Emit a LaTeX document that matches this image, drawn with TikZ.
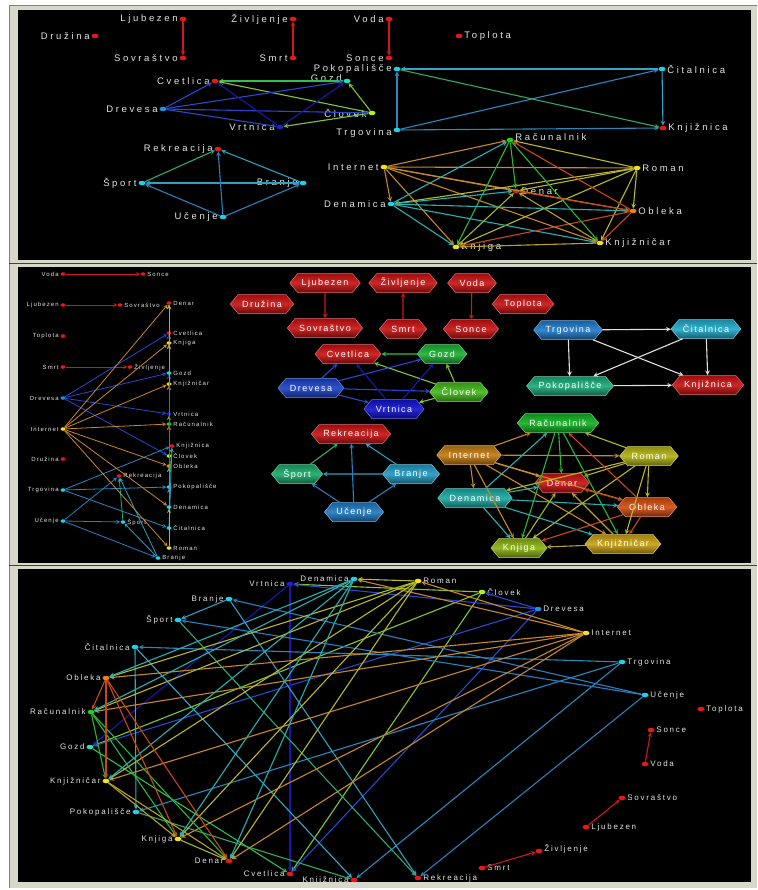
\documentclass[tikz,border=0pt]{standalone}
\usepackage{fontspec}
\setmainfont{Liberation Sans}
\newfontfamily\panelafont[LetterSpace=28]{Liberation Sans}
\newfontfamily\hexfont[LetterSpace=16]{Liberation Sans}
\newfontfamily\listfont[LetterSpace=18]{Liberation Sans}
\newfontfamily\panelcfont[LetterSpace=22]{Liberation Sans}
\usepackage{tikz}
\usetikzlibrary{arrows,shapes.geometric,shapes.symbols}

% node colours
\definecolor{cred}{HTML}{E81818}
\definecolor{ccyan}{HTML}{20D0E8}
\definecolor{cgozd}{HTML}{20E0C0}
\definecolor{cdrev}{HTML}{2090E0}
\definecolor{cvrtn}{HTML}{2020D0}
\definecolor{cclov}{HTML}{B0F020}
\definecolor{cyell}{HTML}{F0E020}
\definecolor{cracu}{HTML}{20D020}
\definecolor{coble}{HTML}{F08010}
\definecolor{labgray}{HTML}{E4E4E4}
\definecolor{framec}{HTML}{D8D8C8}
% hexagon colours
\definecolor{hred}{HTML}{C81010}
\definecolor{htrgo}{HTML}{1F78C8}
\definecolor{hcita}{HTML}{20A8C8}
\definecolor{hpoko}{HTML}{18A878}
\definecolor{hgozd}{HTML}{18B030}
\definecolor{hdrev}{HTML}{1840C8}
\definecolor{hclov}{HTML}{40B818}
\definecolor{hvrtn}{HTML}{1010D0}
\definecolor{hspor}{HTML}{18A868}
\definecolor{hbran}{HTML}{2098C0}
\definecolor{hucen}{HTML}{1E78C0}
\definecolor{hracu}{HTML}{10B020}
\definecolor{hinte}{HTML}{C07810}
\definecolor{hroma}{HTML}{B0B010}
\definecolor{hdnmc}{HTML}{18A8A0}
\definecolor{hoble}{HTML}{D04A10}
\definecolor{hknjg}{HTML}{88B010}
\definecolor{hknjr}{HTML}{C8A010}
% edge colours (by source)
\definecolor{eRed}{HTML}{D01818}
\definecolor{eGozd}{HTML}{30C050}
\definecolor{eClov}{HTML}{80C830}
\definecolor{eDrev}{HTML}{2848D0}
\definecolor{eVrtn}{HTML}{1818B0}
\definecolor{eTrgo}{HTML}{2888C0}
\definecolor{eCita}{HTML}{30A8C8}
\definecolor{ePoko}{HTML}{30A868}
\definecolor{eSpor}{HTML}{30A870}
\definecolor{eBran}{HTML}{30A0C0}
\definecolor{eUcen}{HTML}{2880C0}
\definecolor{eInte}{HTML}{C88828}
\definecolor{eRoma}{HTML}{B8B828}
\definecolor{eRacu}{HTML}{28B838}
\definecolor{eDnmc}{HTML}{28B0B0}
\definecolor{eOble}{HTML}{C84818}
\definecolor{eKnjr}{HTML}{B8A028}
\definecolor{eKnjg}{HTML}{A0B828}

\tikzset{
  gdot/.style={ellipse, fill=#1, minimum width=7pt, minimum height=4.5pt, inner sep=0pt},
  sdot/.style={ellipse, fill=#1, minimum width=5pt, minimum height=3.5pt, inner sep=0pt},
  link/.style={->, line width=1.1pt},
  hex/.style={signal, signal to=east and west, signal pointer angle=100,
    draw=#1!60!white, line width=0.5pt,
    top color=#1!80!black, bottom color=#1!55!black, middle color=#1!90!white,
    text=white, font=\hexfont\fontsize{9}{10}\selectfont,
    minimum height=19pt, inner xsep=4pt, inner ysep=2pt},
}

% the same graph is drawn in every panel
\newcommand\graphedges[1]{%
  \foreach \s/\t/\c in {ljub/sovr/eRed, smrt/zivl/eRed, voda/sonc/eRed,
      gozd/cvet/eGozd, clov/cvet/eClov, clov/gozd/eClov, clov/vrtn/eClov,
      drev/cvet/eDrev, drev/gozd/eDrev, drev/clov/eDrev, drev/vrtn/eDrev,
      vrtn/cvet/eVrtn, vrtn/gozd/eVrtn,
      trgo/poko/eTrgo, trgo/cita/eTrgo, trgo/knjn/eTrgo,
      cita/poko/eCita, cita/knjn/eCita, poko/knjn/ePoko,
      spor/rekr/eSpor, bran/rekr/eBran, bran/spor/eBran,
      ucen/rekr/eUcen, ucen/spor/eUcen, ucen/bran/eUcen,
      inte/racu/eInte, inte/roma/eInte, inte/dena/eInte, inte/dnmc/eInte,
      inte/oble/eInte, inte/knjg/eInte, inte/knjr/eInte,
      roma/racu/eRoma, roma/dena/eRoma, roma/dnmc/eRoma, roma/oble/eRoma,
      roma/knjg/eRoma, roma/knjr/eRoma,
      racu/dena/eRacu, racu/knjg/eRacu, racu/knjr/eRacu,
      dnmc/racu/eDnmc, dnmc/dena/eDnmc, dnmc/oble/eDnmc, dnmc/knjg/eDnmc, dnmc/knjr/eDnmc,
      oble/racu/eOble, oble/dena/eOble, oble/knjg/eOble, oble/knjr/eOble,
      knjr/knjg/eKnjr, knjr/dena/eKnjr, knjg/dena/eKnjg}
    \draw[link, \c] (#1\s) -- (#1\t);
}

\begin{document}
\begin{tikzpicture}[>=stealth, x=1pt, y=-1pt]
  \useasboundingbox (0,0) rectangle (757,890);
  % frames
  \fill[white] (0,0) rectangle (757,890);
  \fill[framec] (9,5) rectangle (757,888);
  \draw[gray] (9.5,888) -- (9.5,5.5) -- (757,5.5);
  \fill[black] (18,10) rectangle (751,260);
  \draw[black!75, line width=1pt] (9,263.5) -- (757,263.5);
  \fill[black] (18,267) rectangle (751,563);
  \draw[black!75, line width=1pt] (9,565.5) -- (757,565.5);
  \fill[black] (18,569) rectangle (751,882);

  % panel 1
  \begin{scope}[every label/.style={text=labgray, inner sep=1.5pt, font=\panelafont\fontsize{9.5}{11}\selectfont}]
	\node[gdot=cred, label=left:Ljubezen] (aljub) at (183,19) {};
	\node[gdot=cred, label=left:Sovraštvo] (asovr) at (183,58) {};
	\node[gdot=cred, label=left:Družina] (adruz) at (95,36) {};
	\node[gdot=cred, label=left:Življenje] (azivl) at (293,19) {};
	\node[gdot=cred, label=left:Smrt] (asmrt) at (293,58) {};
	\node[gdot=cred, label=left:Voda] (avoda) at (389,19) {};
	\node[gdot=cred, label=left:Sonce] (asonc) at (389,58) {};
	\node[gdot=cred, label=right:Toplota] (atopl) at (459,36) {};
	\node[gdot=cred, label=left:Cvetlica] (acvet) at (215,81) {};
	\node[gdot=cgozd, label={[yshift=3pt]left:Gozd}] (agozd) at (347,81) {};
	\node[gdot=cdrev, label=left:Drevesa] (adrev) at (163,109) {};
	\node[gdot=cclov, label=left:Človek] (aclov) at (372,113) {};
	\node[gdot=cvrtn, label=left:Vrtnica] (avrtn) at (280,127) {};
	\node[gdot=ccyan, label=left:Pokopališče] (apoko) at (397,69) {};
	\node[gdot=ccyan, label={[yshift=-3pt]left:Trgovina}] (atrgo) at (397,130) {};
	\node[gdot=ccyan, label=right:Čitalnica] (acita) at (662,69) {};
	\node[gdot=cred, label=right:Knjižnica] (aknjn) at (663,128) {};
	\node[gdot=cred, label=left:Rekreacija] (arekr) at (218,149) {};
	\node[gdot=ccyan, label=left:Šport] (aspor) at (142,183) {};
	\node[gdot=ccyan, label=left:Branje] (abran) at (303,183) {};
	\node[gdot=ccyan, label=left:Učenje] (aucen) at (223,217) {};
	\node[gdot=cracu, label={[yshift=3pt]right:Računalnik}] (aracu) at (510,140) {};
	\node[gdot=cyell, label=left:Internet] (ainte) at (384,167) {};
	\node[gdot=cyell, label=right:Roman] (aroma) at (637,168) {};
	\node[gdot=cred, label=right:Denar] (adena) at (516,191) {};
	\node[gdot=ccyan, label=left:Denamica] (adnmc) at (391,204) {};
	\node[gdot=coble, label=right:Obleka] (aoble) at (633,211) {};
	\node[gdot=cyell, label=right:Knjiga] (aknjg) at (456,247) {};
	\node[gdot=cyell, label=right:Knjižničar] (aknjr) at (600,243) {};
	\graphedges{a}
  \end{scope}

  % panel 2, list
  \begin{scope}[every label/.style={text=labgray, inner sep=1.5pt, font=\listfont\fontsize{6}{7}\selectfont}, link/.append style={line width=0.8pt}]
	\node[sdot=cred, label=left:Voda] (lvoda) at (63,274) {};
	\node[sdot=cred, label=right:Sonce] (lsonc) at (143,274) {};
	\node[sdot=cred, label=left:Ljubezen] (lljub) at (63,305) {};
	\node[sdot=cred, label=right:Sovraštvo] (lsovr) at (120,305) {};
	\node[sdot=cred, label=left:Toplota] (ltopl) at (63,336) {};
	\node[sdot=cred, label=left:Smrt] (lsmrt) at (63,367) {};
	\node[sdot=cred, label=right:Življenje] (lzivl) at (130,367) {};
	\node[sdot=cdrev, label=left:Drevesa] (ldrev) at (63,398) {};
	\node[sdot=cyell, label=left:Internet] (linte) at (63,429) {};
	\node[sdot=cred, label=left:Družina] (ldruz) at (63,459) {};
	\node[sdot=ccyan, label=left:Trgovina] (ltrgo) at (63,490) {};
	\node[sdot=ccyan, label=left:Učenje] (lucen) at (63,521) {};
	\node[sdot=cred, label=right:Rekreacija] (lrekr) at (119,476) {};
	\node[sdot=ccyan, label=right:Šport] (lspor) at (123,522) {};
	\node[sdot=cred, label=right:Denar] (ldena) at (169,303) {};
	\node[sdot=cred, label=right:Cvetlica] (lcvet) at (169,333) {};
	\node[sdot=cyell, label=right:Knjiga] (lknjg) at (169,343) {};
	\node[sdot=cgozd, label=right:Gozd] (lgozd) at (169,373) {};
	\node[sdot=cyell, label=right:Knjižničar] (lknjr) at (169,384) {};
	\node[sdot=cvrtn, label=right:Vrtnica] (lvrtn) at (169,414) {};
	\node[sdot=cracu, label=right:Računalnik] (lracu) at (169,424) {};
	\node[sdot=cred, label=right:Knjižnica] (lknjn) at (172,446) {};
	\node[sdot=cclov, label=right:Človek] (lclov) at (169,456) {};
	\node[sdot=coble, label=right:Obleka] (loble) at (169,466) {};
	\node[sdot=ccyan, label=right:Pokopališče] (lpoko) at (169,487) {};
	\node[sdot=ccyan, label=right:Denamica] (ldnmc) at (169,507) {};
	\node[sdot=ccyan, label=right:Čitalnica] (lcita) at (169,528) {};
	\node[sdot=cyell, label=right:Roman] (lroma) at (169,548) {};
	\node[sdot=ccyan, label=right:Branje] (lbran) at (158,558) {};
	\graphedges{l}
  \end{scope}

  % panel 2, hexagons
  \begin{scope}
	\colorlet{eTrgo}{black!12}
	\colorlet{eCita}{black!12}
	\colorlet{ePoko}{black!12}
	\node[hex=hred] (bdruz) at (262,304) {Družina};
	\node[hex=hred] (bljub) at (325,283) {Ljubezen};
	\node[hex=hred] (bsovr) at (325,328) {Sovraštvo};
	\node[hex=hred] (bzivl) at (403,283) {Življenje};
	\node[hex=hred] (bsmrt) at (403,329) {Smrt};
	\node[hex=hred] (bvoda) at (472,283) {Voda};
	\node[hex=hred] (bsonc) at (471,329) {Sonce};
	\node[hex=hred] (btopl) at (523,304) {Toplota};
	\node[hex=htrgo] (btrgo) at (568,330) {Trgovina};
	\node[hex=hcita] (bcita) at (706,329) {Čitalnica};
	\node[hex=hpoko] (bpoko) at (570,386) {Pokopališče};
	\node[hex=hred] (bknjn) at (708,385) {Knjižnica};
	\node[hex=hred] (bcvet) at (348,354) {Cvetlica};
	\node[hex=hgozd] (bgozd) at (442,354) {Gozd};
	\node[hex=hdrev] (bdrev) at (311,388) {Drevesa};
	\node[hex=hclov] (bclov) at (459,392) {Človek};
	\node[hex=hvrtn] (bvrtn) at (394,409) {Vrtnica};
	\node[hex=hred] (brekr) at (351,434) {Rekreacija};
	\node[hex=hspor] (bspor) at (297,474) {Šport};
	\node[hex=hbran] (bbran) at (411,474) {Branje};
	\node[hex=hucen] (bucen) at (354,512) {Učenje};
	\node[hex=hracu] (bracu) at (558,423) {Računalnik};
	\node[hex=hinte] (binte) at (469,455) {Internet};
	\node[hex=hroma] (broma) at (649,456) {Roman};
	\node[hex=hred] (bdena) at (562,483) {Denar};
	\node[hex=hdnmc] (bdnmc) at (475,498) {Denamica};
	\node[hex=hoble] (boble) at (647,507) {Obleka};
	\node[hex=hknjg] (bknjg) at (519,548) {Knjiga};
	\node[hex=hknjr] (bknjr) at (623,544) {Knjižničar};
	\graphedges{b}
  \end{scope}

  % panel 3, circle
  \begin{scope}[every label/.style={text=labgray, inner sep=1.5pt, font=\panelcfont\fontsize{8}{9}\selectfont}]
	\node[gdot=ccyan, label=left:Denamica] (cdnmc) at (354,579) {};
	\node[gdot=cvrtn, label=left:Vrtnica] (cvrtn) at (290,584) {};
	\node[gdot=ccyan, label=left:Branje] (cbran) at (229,599) {};
	\node[gdot=ccyan, label=left:Šport] (cspor) at (178,620) {};
	\node[gdot=ccyan, label=left:Čitalnica] (ccita) at (135,647) {};
	\node[gdot=coble, label=left:Obleka] (coble) at (106,678) {};
	\node[gdot=cracu, label=left:Računalnik] (cracu) at (91,712) {};
	\node[gdot=cgozd, label=left:Gozd] (cgozd) at (90,747) {};
	\node[gdot=cyell, label=left:Knjižničar] (cknjr) at (106,781) {};
	\node[gdot=ccyan, label=left:Pokopališče] (cpoko) at (136,812) {};
	\node[gdot=cyell, label=left:Knjiga] (cknjg) at (178,839) {};
	\node[gdot=cred, label=left:Denar] (cdena) at (229,861) {};
	\node[gdot=cred, label=left:Cvetlica] (ccvet) at (290,874) {};
	\node[gdot=cred, label=left:Knjižnica] (cknjn) at (354,880) {};
	\node[gdot=cred, label=right:Rekreacija] (crekr) at (418,878) {};
	\node[gdot=cred, label=right:Smrt] (csmrt) at (482,868) {};
	\node[gdot=cred, label={[yshift=2pt]right:Življenje}] (czivl) at (539,851) {};
	\node[gdot=cred, label=right:Ljubezen] (cljub) at (586,827) {};
	\node[gdot=cred, label=right:Sovraštvo] (csovr) at (622,798) {};
	\node[gdot=cred, label=right:Voda] (cvoda) at (645,764) {};
	\node[gdot=cred, label=right:Sonce] (csonc) at (651,730) {};
	\node[gdot=cred, label=right:Toplota] (ctopl) at (701,709) {};
	\node[gdot=ccyan, label=right:Učenje] (cucen) at (645,695) {};
	\node[gdot=ccyan, label=right:Trgovina] (ctrgo) at (622,662) {};
	\node[gdot=cyell, label=right:Internet] (cinte) at (586,633) {};
	\node[gdot=cdrev, label=right:Drevesa] (cdrev) at (538,609) {};
	\node[gdot=cclov, label=right:Človek] (cclov) at (482,592) {};
	\node[gdot=cyell, label=right:Roman] (croma) at (418,581) {};
	\graphedges{c}
  \end{scope}
\end{tikzpicture}
\end{document}
